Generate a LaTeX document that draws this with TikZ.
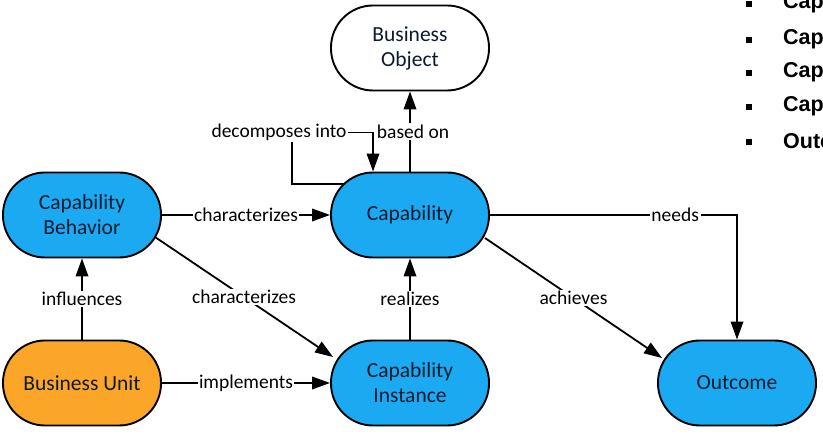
\documentclass[tikz,border=0pt]{standalone}
\usepackage{fontspec}
\setmainfont{Carlito}
\newfontfamily\bulletfont{Liberation Sans}
\usetikzlibrary{arrows.meta,calc,backgrounds}
\definecolor{capblue}{HTML}{1BAAF1}
\definecolor{unitorange}{HTML}{FBA629}
\definecolor{nodetext}{HTML}{0E1A2E}
\begin{document}
\begin{tikzpicture}[x=1pt,y=-1pt,
  concept/.style={draw=black, line width=1.9pt, rectangle, rounded corners=42pt,
    minimum width=158pt, minimum height=85pt, align=center, text=nodetext,
    font=\fontsize{21.5}{25}\selectfont},
  lbl/.style={fill=white, inner sep=1.5pt, text=black, font=\fontsize{19.5}{23}\selectfont},
  arr/.style={draw=black, line width=1.8pt, -{Triangle[length=18pt,width=12.5pt]}},
  bulletsq/.style={fill=black, minimum size=6.5pt, inner sep=0pt},
  bullettext/.style={anchor=west, inner sep=0pt, font=\bulletfont\bfseries\fontsize{21.5}{25}\selectfont}]
\clip (0,0) rectangle (823,435);

\node[concept, fill=white] (bo) at (410,48) {Business\\Object};
\node[concept, fill=capblue] (cap) at (410,215) {Capability};
\node[concept, fill=capblue] (cb) at (82,215) {Capability\\Behavior};
\node[concept, fill=unitorange] (bu) at (82,383) {Business Unit};
\node[concept, fill=capblue] (ci) at (410,383) {Capability\\Instance};
\node[concept, fill=capblue] (oc) at (737,383) {Outcome};

\begin{scope}[on background layer]
\fill[white] (0,0) rectangle (823,435);
\draw[arr] (cap.north) -- (bo.south) node[lbl, pos=0.5, xshift=3pt]{based on};
\coordinate (d1) at ($(cap.center)+(-118,-31)$);
\coordinate (d2) at ($(cap.north)+(-37,-39)$);
\draw[arr] ($(cap.center)+(-50,-31)$) -- (d1) |- (d2)
  node[lbl, pos=0.5, xshift=-13pt]{decomposes into} -- (cap.north -| d2);
\draw[arr] (cb.east) -- (cap.west) node[lbl, pos=0.5]{characterizes};
\draw[arr] ($(cb.center)+(73,22)$) -- ($(ci.center)+(-77,-26)$) node[lbl, pos=0.5]{characterizes};
\draw[arr] (bu.north) -- (cb.south) node[lbl, pos=0.5]{influences};
\draw[arr] (bu.east) -- (ci.west) node[lbl, pos=0.5]{implements};
\draw[arr] (ci.north) -- (cap.south) node[lbl, pos=0.5]{realizes};
\draw[arr] ($(cap.center)+(75,23)$) -- ($(oc.center)+(-75,-25)$) node[lbl, pos=0.5]{achieves};
\draw[arr] (cap.east) -| (oc.north) node[lbl, pos=0.375]{needs};
\end{scope}

\node[bulletsq] (s1) at (749,4) {};
\node[bulletsq] (s2) at (749,40) {};
\node[bulletsq] (s3) at (749,73) {};
\node[bulletsq] (s4) at (749,107) {};
\node[bulletsq] (s5) at (749,142) {};
\node[bullettext] (t1) at (783,3) {Cap};
\node[bullettext] (t2) at (783,39) {Cap};
\node[bullettext] (t3) at (783,72) {Cap};
\node[bullettext] (t4) at (783,106) {Cap};
\node[bullettext] (t5) at (783,141) {Outc};
\end{tikzpicture}
\end{document}
